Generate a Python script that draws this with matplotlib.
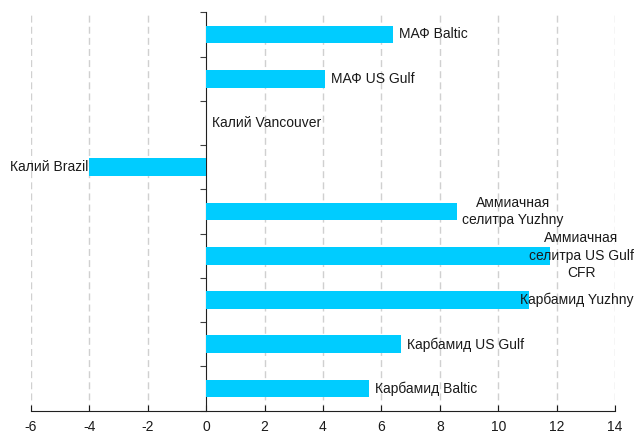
import matplotlib
matplotlib.use('Agg')
import matplotlib.pyplot as plt
import numpy as np

plt.rcParams['font.family'] = ['Liberation Sans', 'DejaVu Sans']

# products, top to bottom, and their values
labels = ["МАФ Baltic", "МАФ US Gulf", "Калий Vancouver", "Калий Brazil",
          "Аммиачная\nселитра Yuzhny", "Аммиачная\nселитра US Gulf\nCFR",
          "Карбамид Yuzhny", "Карбамид US Gulf", "Карбамид Baltic"]
values = [6.4, 4.08, 0.0, -4.0, 8.58, 11.78, 11.06, 6.68, 5.58]
xticks = [-6, -4, -2, 0, 2, 4, 6, 8, 10, 12, 14]

fig = plt.figure(figsize=(6.35, 4.37), dpi=100)
ax = fig.add_axes([0.0488, 0.0602, 0.9197, 0.9117])

pos = np.arange(len(values))
ax.barh(pos, values, height=0.4, color='#00CCFF', zorder=3)

ax.set_xlim(-6, 14)
ax.set_ylim(len(values) - 0.5, -0.5)
ax.set_xticks(xticks)
ax.set_xticklabels([str(t) for t in xticks], fontsize=10)
ax.set_yticks(np.arange(len(values) + 1) - 0.5)
ax.set_yticklabels([])
ax.tick_params(axis='x', direction='in', length=4, pad=7, colors='#1a1a1a')
ax.tick_params(axis='y', direction='out', length=4, color='#404040')

for x in xticks:
    if x != 0:
        ax.axvline(x, color='#d0d0d0', lw=1, ls=(0, (5, 3)), zorder=1)

for s in ['top', 'right']:
    ax.spines[s].set_visible(False)
ax.spines['left'].set_position(('data', 0))
ax.spines['left'].set_color('#202020')
ax.spines['bottom'].set_color('#202020')

# value labels outside the bar ends
texts = []
for p, v, lab in zip(pos, values, labels):
    off = 4 if v >= 0 else -1
    t = ax.annotate(lab, (v, p), xytext=(off, 0), textcoords='offset points',
                    ha='left' if v >= 0 else 'right', va='center',
                    multialignment='center', linespacing=1.3,
                    fontsize=10, color='#1a1a1a',
                    zorder=4, annotation_clip=False)
    texts.append(t)

# keep the labels inside the figure
fig.canvas.draw()
r = fig.canvas.get_renderer()
W = fig.bbox.width
for t in texts:
    bb = t.get_window_extent(r)
    shift = 0
    if bb.x1 > W - 1:
        shift = (W - 1) - bb.x1
    elif bb.x0 < 10:
        shift = 10 - bb.x0
    if shift:
        ox, oy = t.xyann
        t.xyann = (ox + shift * 72 / fig.dpi, oy)

fig.savefig('out.png', dpi=100)
